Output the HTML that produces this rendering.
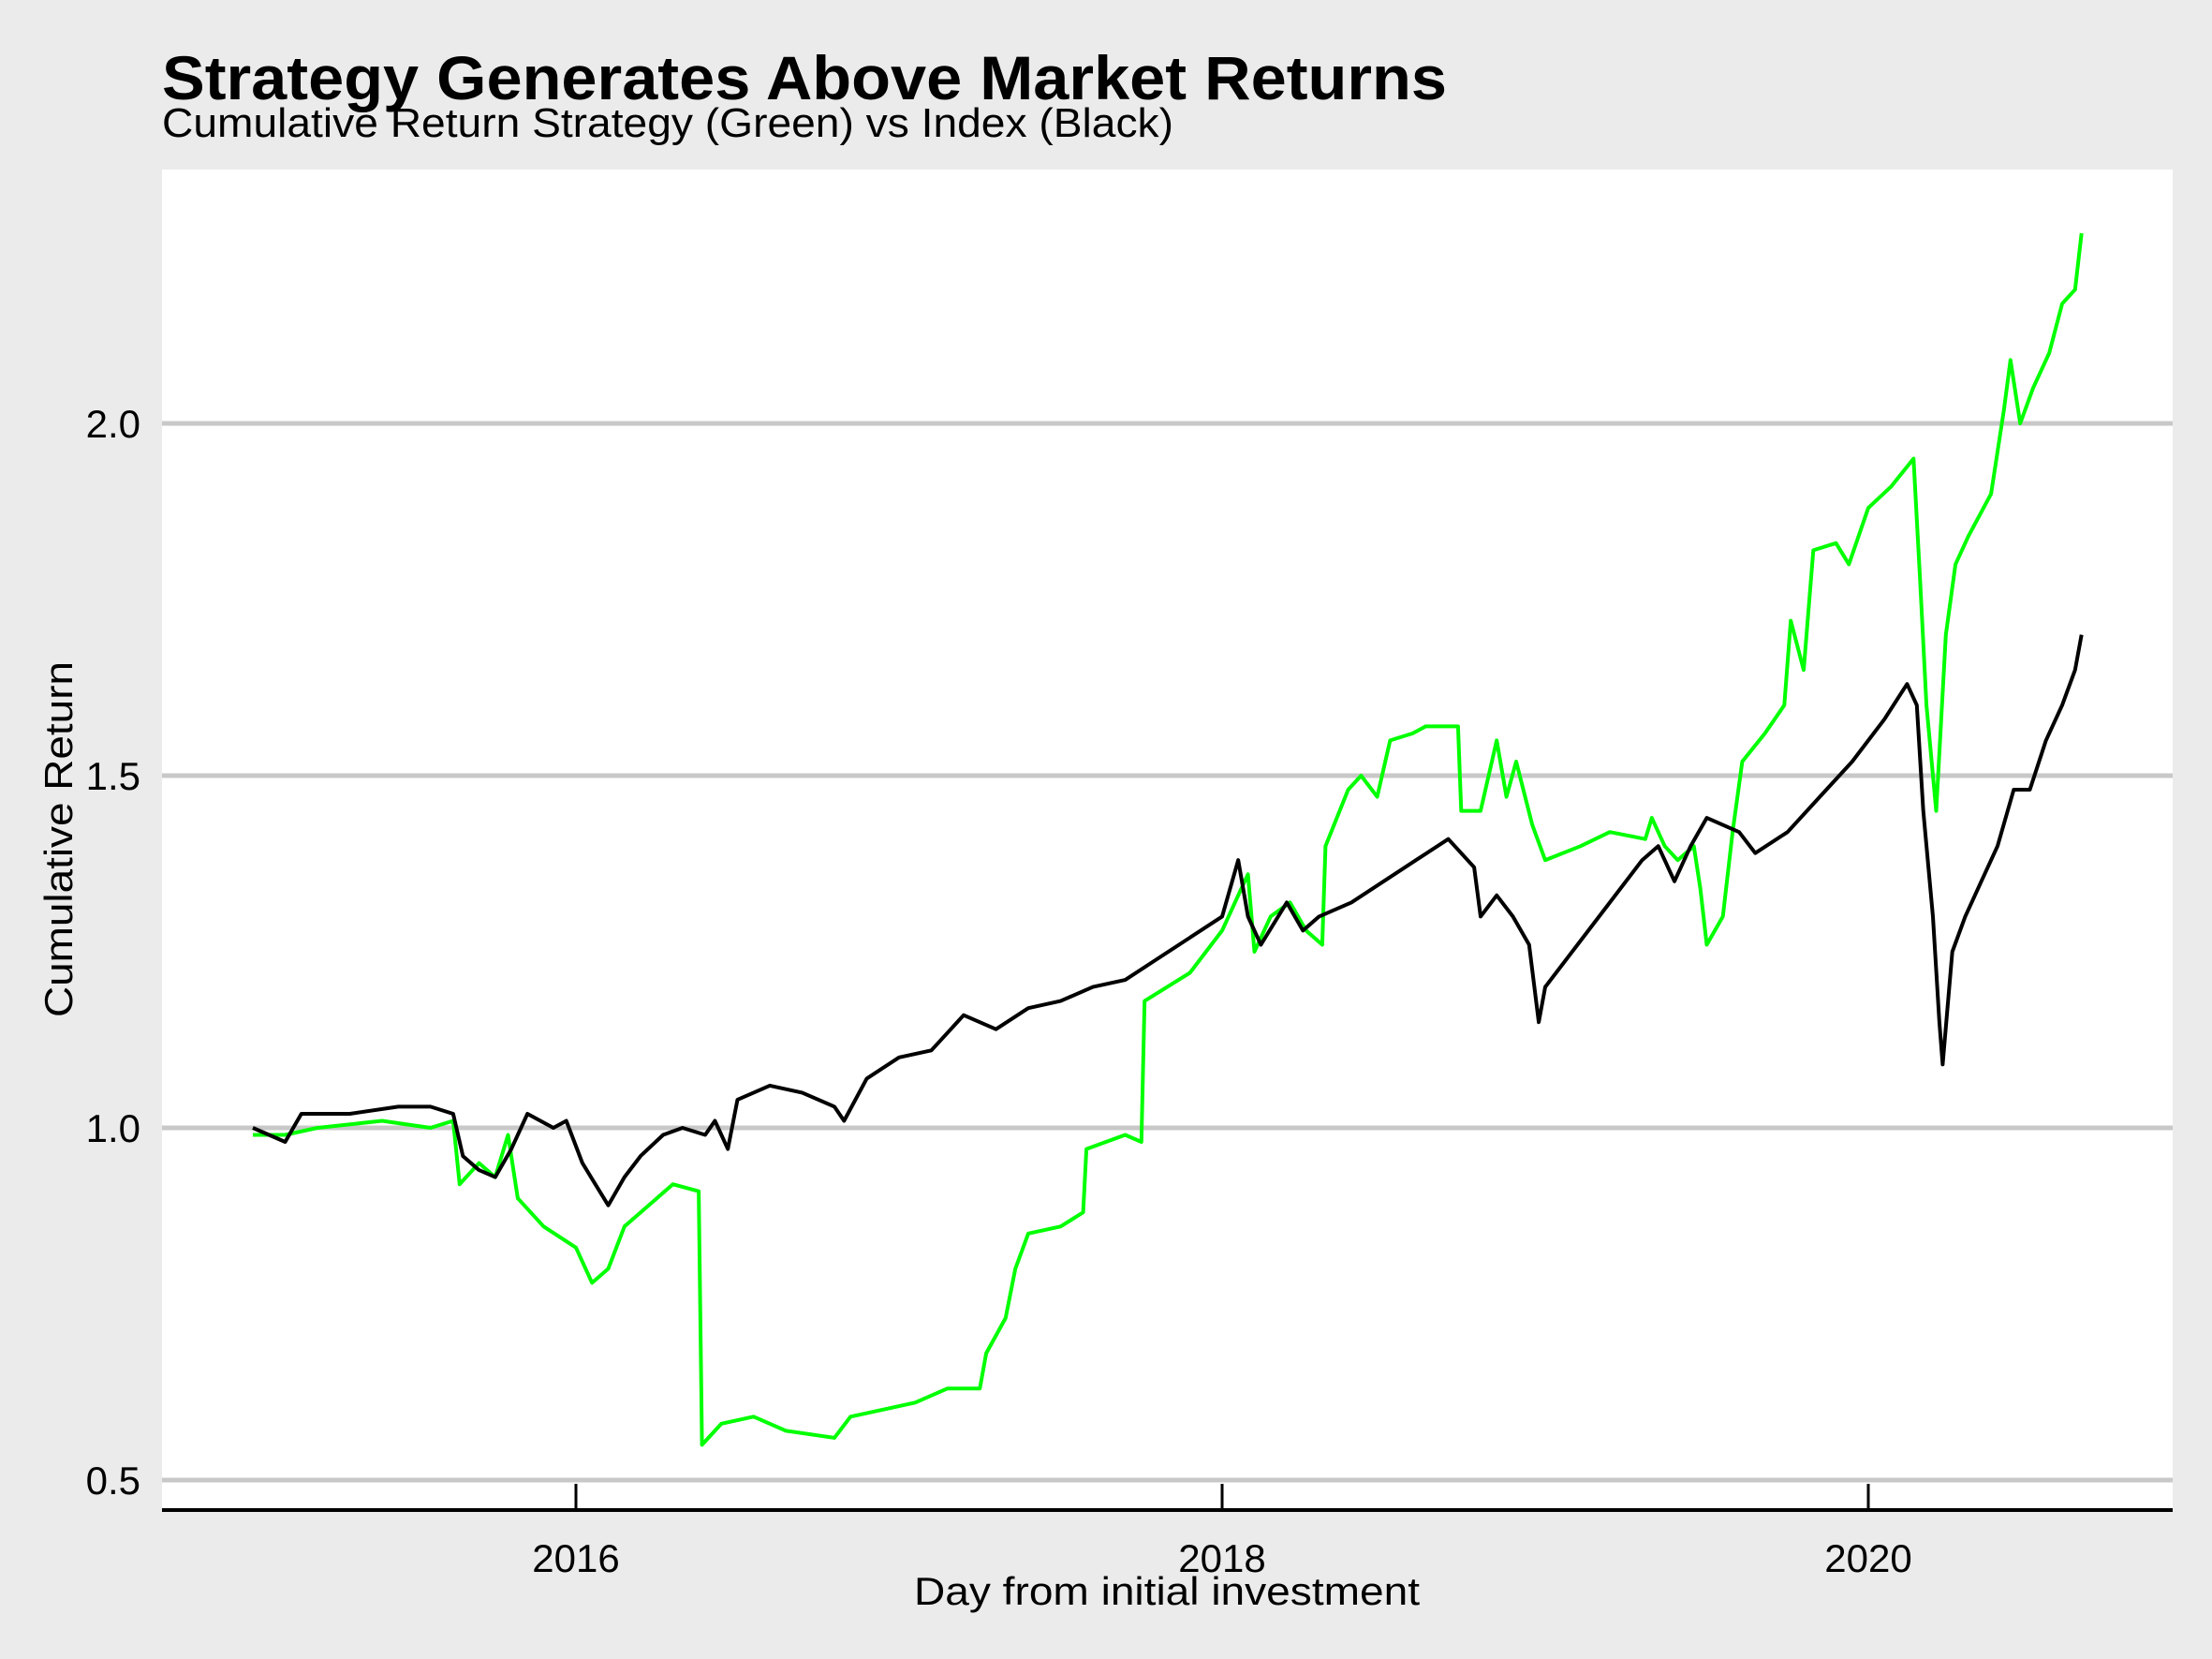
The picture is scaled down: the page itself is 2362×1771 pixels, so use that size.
<!DOCTYPE html>
<html><head><meta charset="utf-8">
<style>
html,body{margin:0;padding:0;background:#ebebeb;}
svg{display:block;font-family:"Liberation Sans",Arial,sans-serif;}
</style></head>
<body>
<svg id="chart" width="2362" height="1771" viewBox="0 0 2362 1771" xmlns="http://www.w3.org/2000/svg">
<rect x="0" y="0" width="2362" height="1771" fill="#ebebeb"/>
<text x="173" y="106" font-size="66" font-weight="bold" textLength="1372" lengthAdjust="spacingAndGlyphs">Strategy Generates Above Market Returns</text>
<text x="173" y="146" font-size="44" textLength="1080" lengthAdjust="spacingAndGlyphs">Cumulative Return Strategy (Green) vs Index (Black)</text>
<rect x="173" y="181" width="2147" height="1431" fill="#ffffff"/>
<g id="grid"></g>
<g id="yticks"></g>
<g id="xticks"></g>
<g id="series"></g>
<line x1="173" y1="1612" x2="2320" y2="1612" stroke="#000" stroke-width="4"/>
<text x="1246" y="1713" font-size="42" text-anchor="middle" textLength="540" lengthAdjust="spacingAndGlyphs">Day from initial investment</text>
<text transform="translate(77,896) rotate(-90)" font-size="42" text-anchor="middle" textLength="380" lengthAdjust="spacingAndGlyphs">Cumulative Return</text>
</svg>
<script>
const yTicks = [0.5, 1.0, 1.5, 2.0];
const yTickLabels = ["0.5", "1.0", "1.5", "2.0"];
const xTicks = [2016, 2018, 2020];
const xTickLabels = ["2016", "2018", "2020"];

const indexYears = [2015.0,2015.1,2015.15,2015.3,2015.45,2015.55,2015.62,2015.65,2015.7,2015.75,2015.8,2015.85,2015.93,2015.97,2016.02,2016.06,2016.1,2016.15,2016.2,2016.27,2016.33,2016.4,2016.43,2016.45,2016.47,2016.5,2016.6,2016.7,2016.8,2016.83,2016.9,2017.0,2017.1,2017.2,2017.3,2017.4,2017.5,2017.6,2017.7,2017.8,2017.9,2018.0,2018.05,2018.08,2018.12,2018.2,2018.25,2018.3,2018.4,2018.5,2018.6,2018.7,2018.78,2018.8,2018.85,2018.9,2018.95,2018.98,2019.0,2019.1,2019.2,2019.3,2019.35,2019.4,2019.45,2019.5,2019.6,2019.65,2019.75,2019.85,2019.95,2020.05,2020.12,2020.15,2020.17,2020.2,2020.22,2020.23,2020.26,2020.3,2020.35,2020.4,2020.45,2020.5,2020.55,2020.6,2020.64,2020.66];
const indexValues = [1.0,0.98,1.02,1.02,1.03,1.03,1.02,0.96,0.94,0.93,0.97,1.02,1.0,1.01,0.95,0.92,0.89,0.93,0.96,0.99,1.0,0.99,1.01,0.99,0.97,1.04,1.06,1.05,1.03,1.01,1.07,1.10,1.11,1.16,1.14,1.17,1.18,1.20,1.21,1.24,1.27,1.30,1.38,1.30,1.26,1.32,1.28,1.30,1.32,1.35,1.38,1.41,1.37,1.30,1.33,1.30,1.26,1.15,1.20,1.26,1.32,1.38,1.40,1.35,1.40,1.44,1.42,1.39,1.42,1.47,1.52,1.58,1.63,1.60,1.45,1.30,1.15,1.09,1.25,1.30,1.35,1.40,1.48,1.48,1.55,1.60,1.65,1.70];

const strategyYears = [2015.0,2015.1,2015.2,2015.4,2015.55,2015.62,2015.64,2015.7,2015.75,2015.79,2015.82,2015.9,2016.0,2016.05,2016.1,2016.15,2016.25,2016.3,2016.38,2016.39,2016.45,2016.55,2016.65,2016.8,2016.85,2016.95,2017.05,2017.15,2017.25,2017.27,2017.33,2017.36,2017.4,2017.5,2017.57,2017.58,2017.7,2017.75,2017.76,2017.9,2018.0,2018.05,2018.08,2018.1,2018.15,2018.21,2018.26,2018.31,2018.32,2018.39,2018.43,2018.48,2018.52,2018.59,2018.63,2018.73,2018.74,2018.8,2018.85,2018.88,2018.91,2018.96,2019.0,2019.11,2019.2,2019.31,2019.33,2019.37,2019.41,2019.46,2019.48,2019.5,2019.55,2019.58,2019.61,2019.68,2019.74,2019.76,2019.8,2019.83,2019.9,2019.94,2020.0,2020.07,2020.14,2020.16,2020.18,2020.21,2020.24,2020.27,2020.31,2020.38,2020.42,2020.44,2020.47,2020.51,2020.56,2020.6,2020.64,2020.66];
const strategyValues = [0.99,0.99,1.0,1.01,1.0,1.01,0.92,0.95,0.93,0.99,0.90,0.86,0.83,0.78,0.80,0.86,0.90,0.92,0.91,0.55,0.58,0.59,0.57,0.56,0.59,0.60,0.61,0.63,0.63,0.68,0.73,0.80,0.85,0.86,0.88,0.97,0.99,0.98,1.18,1.22,1.28,1.33,1.36,1.25,1.30,1.32,1.28,1.26,1.40,1.48,1.50,1.47,1.55,1.56,1.57,1.57,1.45,1.45,1.55,1.47,1.52,1.43,1.38,1.40,1.42,1.41,1.44,1.40,1.38,1.40,1.34,1.26,1.30,1.42,1.52,1.56,1.60,1.72,1.65,1.82,1.83,1.80,1.88,1.91,1.95,1.78,1.60,1.45,1.70,1.80,1.84,1.90,2.02,2.09,2.00,2.05,2.10,2.17,2.19,2.27];

const NS = "http://www.w3.org/2000/svg";
function xScale(t){ return 615 + (t - 2016) * 345; }
function yScale(v){ return 1204 - (v - 1.0) * 752; }

const grid = document.getElementById('grid');
const yt = document.getElementById('yticks');
yTicks.forEach((v,i)=>{
  const l = document.createElementNS(NS,'line');
  l.setAttribute('x1',173); l.setAttribute('x2',2320);
  l.setAttribute('y1',yScale(v)); l.setAttribute('y2',yScale(v));
  l.setAttribute('stroke','#c8c8c8'); l.setAttribute('stroke-width',5);
  
  
  grid.appendChild(l);
  const t = document.createElementNS(NS,'text');
  t.setAttribute('x',150); t.setAttribute('y',yScale(v)+15);
  t.setAttribute('font-size',42); t.setAttribute('text-anchor','end');
  t.textContent = yTickLabels[i];
  
  
  yt.appendChild(t);
});
const xt = document.getElementById('xticks');
xTicks.forEach((v,i)=>{
  const l = document.createElementNS(NS,'line');
  l.setAttribute('x1',xScale(v)); l.setAttribute('x2',xScale(v));
  l.setAttribute('y1',1584); l.setAttribute('y2',1612);
  l.setAttribute('stroke','#000'); l.setAttribute('stroke-width',3);
  
  
  xt.appendChild(l);
  const t = document.createElementNS(NS,'text');
  t.setAttribute('x',xScale(v)); t.setAttribute('y',1678);
  t.setAttribute('font-size',42); t.setAttribute('text-anchor','middle');
  t.textContent = xTickLabels[i];
  
  
  xt.appendChild(t);
});
function drawLine(years, vals, color, name){
  const p = document.createElementNS(NS,'polyline');
  p.setAttribute('points', years.map((t,i)=>xScale(t).toFixed(1)+','+yScale(vals[i]).toFixed(1)).join(' '));
  p.setAttribute('fill','none'); p.setAttribute('stroke',color);
  p.setAttribute('stroke-width',4); p.setAttribute('stroke-linejoin','round');
  
  
  document.getElementById('series').appendChild(p);
}
drawLine(strategyYears, strategyValues, '#00ff00', 'strategy-line');
drawLine(indexYears, indexValues, '#000000', 'index-line');
</script>
</body></html>
